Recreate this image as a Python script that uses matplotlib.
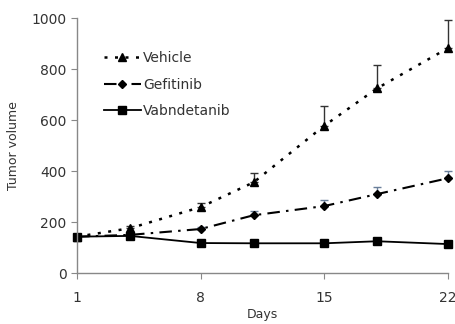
import matplotlib
matplotlib.use("Agg")
import matplotlib.pyplot as plt
from matplotlib.lines import Line2D

days = [1, 4, 8, 11, 15, 18, 22]
vehicle = [143, 176, 259, 356, 578, 725, 882]
vehicle_err = [0, 10, 18, 37, 77, 93, 110]
gefitinib = [143, 150, 173, 227, 263, 310, 372]
gefitinib_err = [0, 0, 8, 16, 23, 27, 28]
vabndetanib = [143, 146, 118, 117, 117, 125, 114]
xticks = [1, 8, 15, 22]
yticks = [0, 200, 400, 600, 800, 1000]

plt.rcParams['font.family'] = ['DejaVu Sans']
fig = plt.figure(figsize=(4.56, 3.24), dpi=100)
ax = fig.add_axes([0.169, 0.157, 0.813, 0.787])

ls_veh = (0, (1.2, 3.0))
ls_gef = (0, (6, 3, 1.2, 3))
ax.errorbar(days, vehicle, yerr=[[0]*len(days), vehicle_err], color='black',
            linestyle=ls_veh, linewidth=1.8, marker='^', markersize=6,
            capsize=3, elinewidth=1, ecolor='#333333')
ax.errorbar(days, gefitinib, yerr=[[0]*len(days), gefitinib_err], color='black',
            linestyle=ls_gef, linewidth=1.5, marker='D', markersize=4.5,
            capsize=3, elinewidth=1, ecolor='#6a7f9a')
ax.plot(days, vabndetanib, color='black', linestyle='-', linewidth=1.3,
        marker='s', markersize=6)
for c in ax.get_children():
    try:
        c.set_clip_on(False)
    except Exception:
        pass

ax.set_xlim(1, 22)
ax.set_ylim(0, 1000)
ax.set_xticks(xticks)
ax.set_yticks(yticks)
for s in ['top', 'right']:
    ax.spines[s].set_visible(False)
for s in ['left', 'bottom']:
    ax.spines[s].set_color('#888888')
    ax.spines[s].set_linewidth(1)
ax.tick_params(colors='#888888', labelcolor='#333333', labelsize=10, length=4, direction='out')
ax.tick_params(axis='x', pad=9)
ax.set_xlabel('Days', color='#333333', fontsize=9, labelpad=2)
ax.set_ylabel('Tumor volume', color='#333333', fontsize=9, labelpad=8)

handles = [
    Line2D([], [], color='black', linestyle=ls_veh, linewidth=1.8, marker='^', markersize=6),
    Line2D([], [], color='black', linestyle=ls_gef, linewidth=1.5, marker='D', markersize=4.5),
    Line2D([], [], color='black', linestyle='-', linewidth=1.3, marker='s', markersize=6),
]
labels = ['Vehicle', 'Gefitinib', 'Vabndetanib']
ax.legend(handles, labels, loc='upper left', bbox_to_anchor=(0.04, 0.92), frameon=False,
          fontsize=10, handlelength=2.6, labelspacing=0.9, handletextpad=0.2,
          labelcolor='#333333')
ax.patch.set_visible(False)
fig.savefig('out.png', dpi=100)
